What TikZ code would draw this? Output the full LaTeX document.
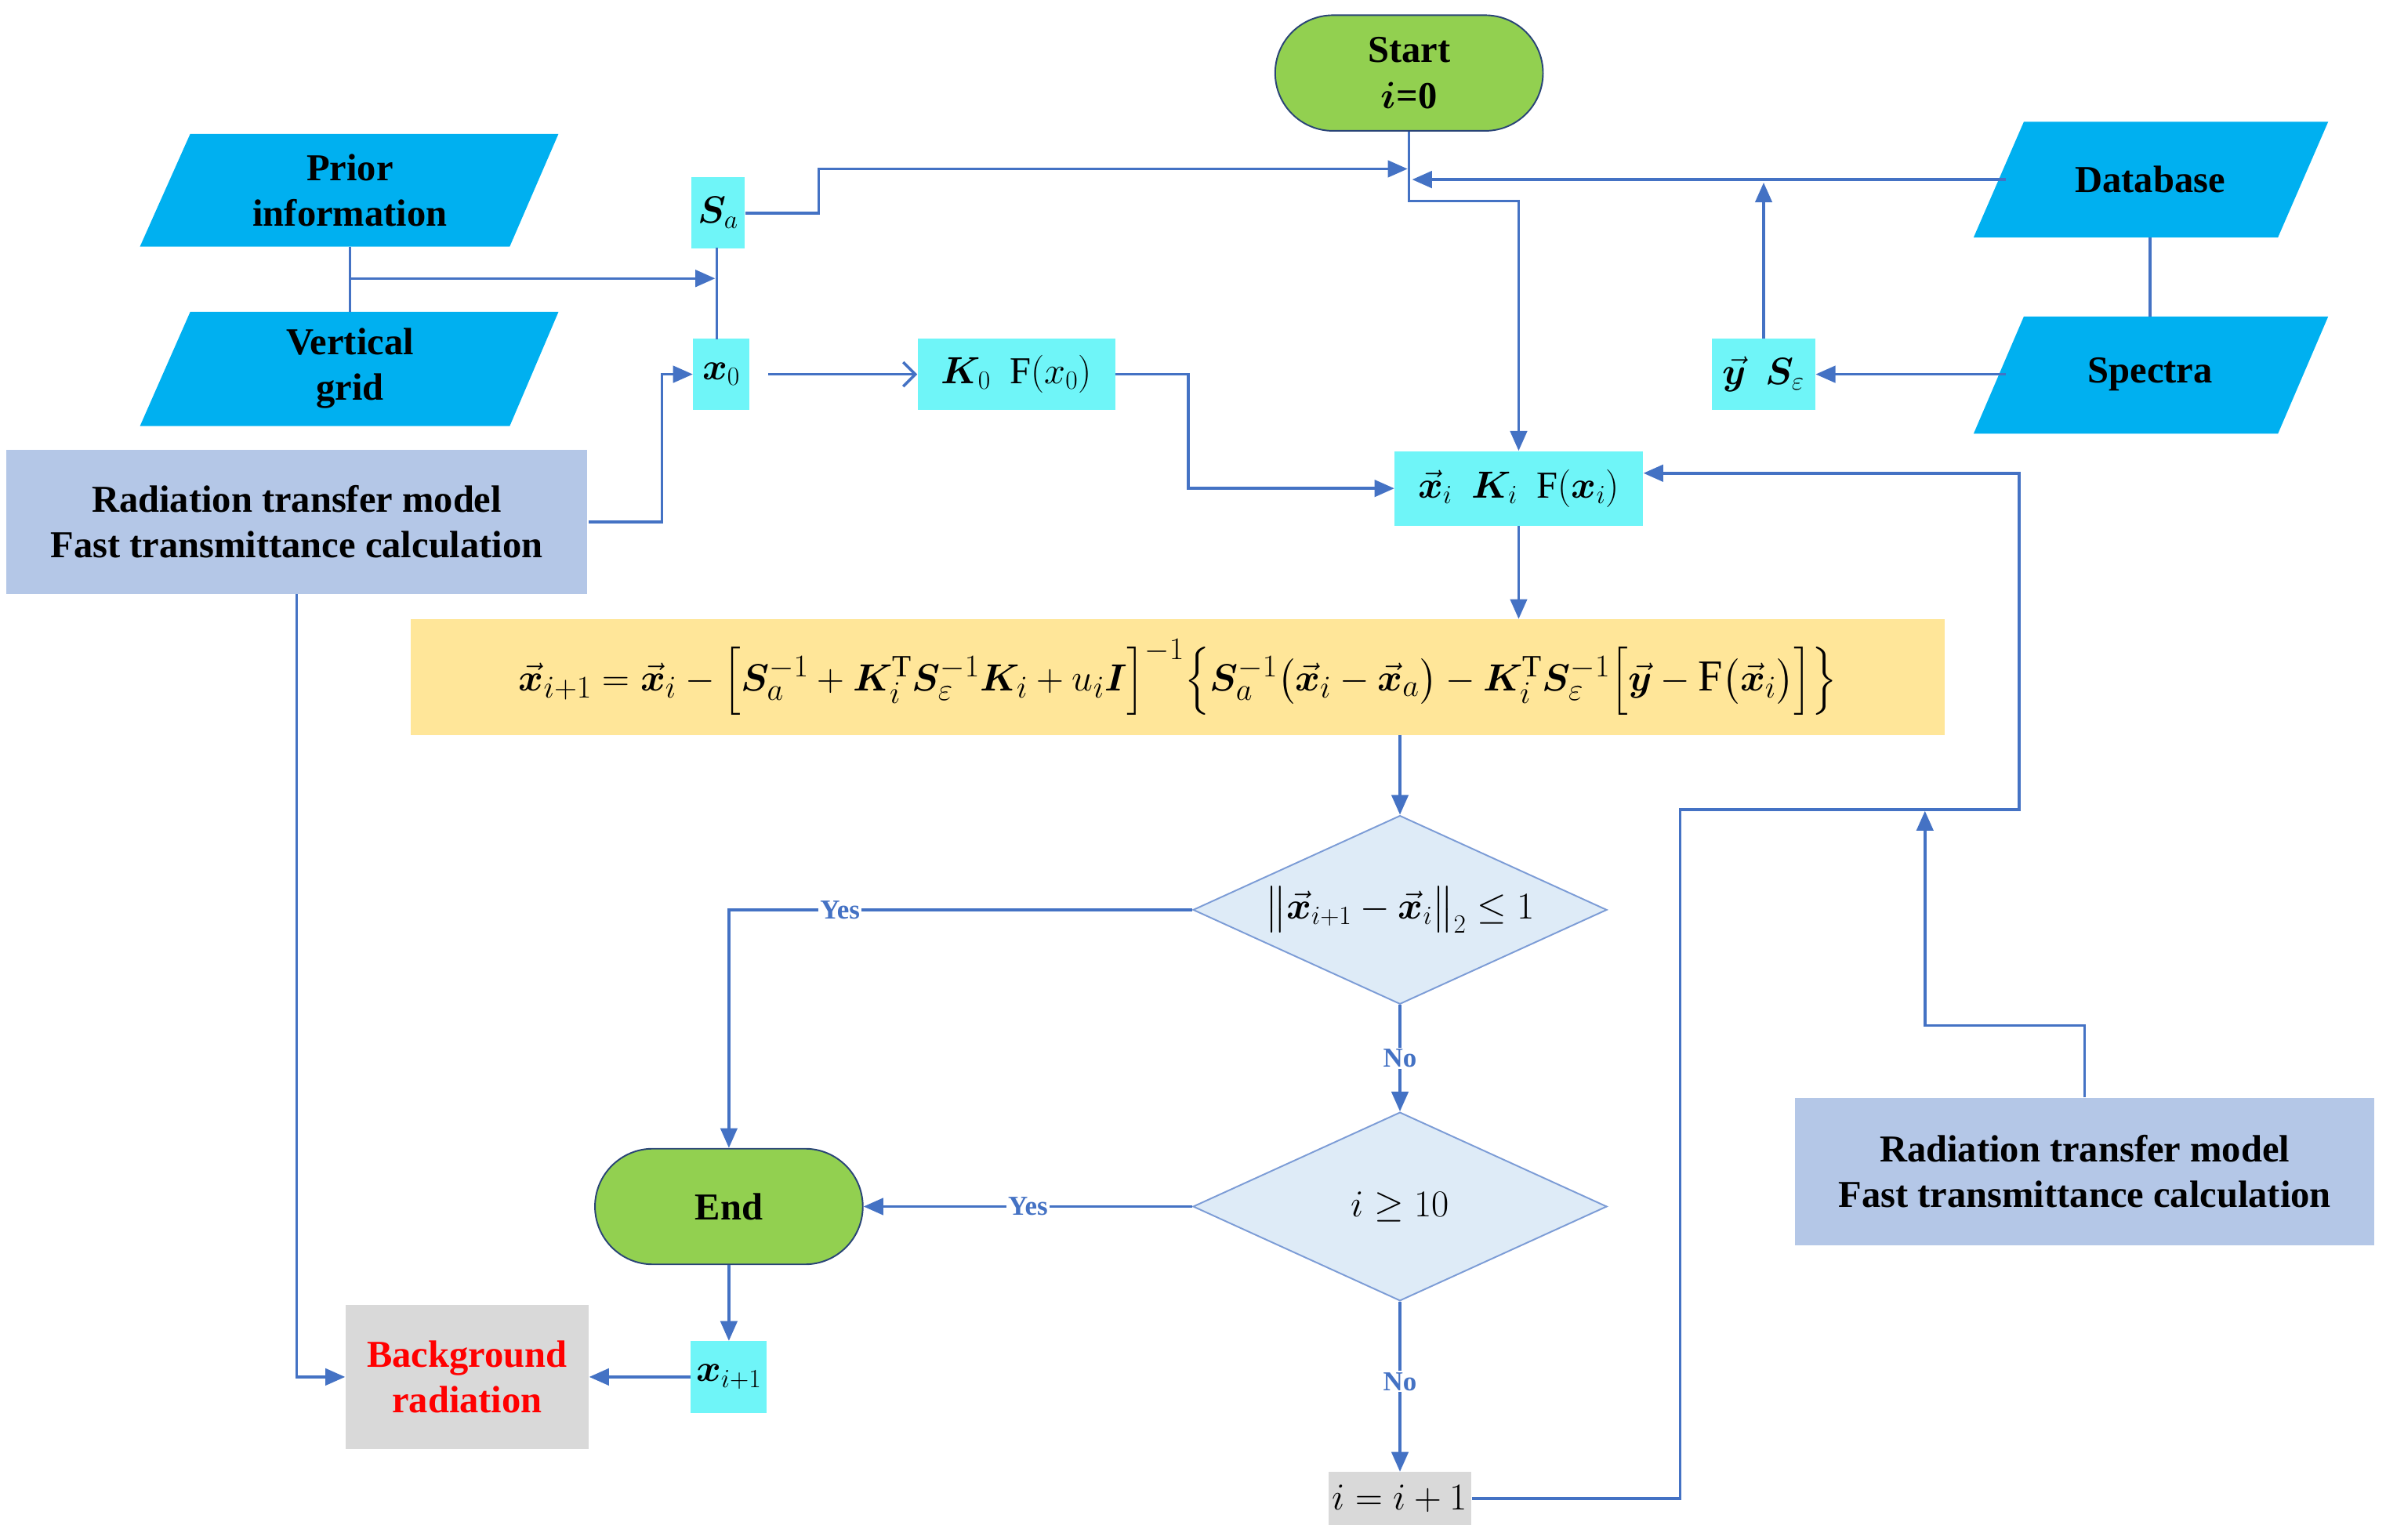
\documentclass[tikz,border=0pt]{standalone}
\usepackage{fontspec}
\usepackage{amsmath,bm}
\setmainfont{Liberation Serif}
\usetikzlibrary{arrows.meta,shapes.geometric,shapes.misc}
\definecolor{ln}{HTML}{4472C4}
\definecolor{grn}{HTML}{92D050}
\definecolor{skyb}{HTML}{00B0F0}
\definecolor{cyb}{HTML}{6FF5F8}
\definecolor{rtm}{HTML}{B4C7E7}
\definecolor{frm}{HTML}{FFE699}
\definecolor{gry}{HTML}{D9D9D9}
\definecolor{dia}{HTML}{DEEBF7}
\tikzset{
 every node/.style={font=\fontsize{25}{30}\selectfont\bfseries, align=center, inner sep=0pt},
 con/.style={draw=ln, line width=1.8pt, -{Triangle[width=11pt,length=13pt]}},
 ln/.style={draw=ln, line width=1.8pt},
 term/.style={rounded rectangle, fill=grn, draw=ln!60!black, line width=1pt, minimum width=176pt, minimum height=76pt},
 cbox/.style={fill=cyb, minimum height=47pt},
 lab/.style={font=\fontsize{18}{20}\selectfont\bfseries, text=ln, fill=white, inner sep=1pt},
 dm/.style={diamond, aspect=2.2, fill=dia, draw=ln!70, line width=1pt, minimum width=272pt, minimum height=124pt},
}
\begin{document}
\begin{tikzpicture}[x=1pt,y=-1pt]
\useasboundingbox (0,0) rectangle (1568,1012);
% parallelograms
\fill[skyb] (125,88)--(367,88)--(335,162)--(92,162)--cycle;
\fill[skyb] (125,205)--(367,205)--(335,280)--(92,280)--cycle;
\fill[skyb] (1330,80)--(1530,80)--(1497,156)--(1297,156)--cycle;
\fill[skyb] (1330,208)--(1530,208)--(1497,285)--(1297,285)--cycle;
\node (prior) at (230,125) {Prior\\information};
\node (vgrid) at (230,242) {Vertical\\grid};
\node (db) at (1413,118) {Database};
\node (sp) at (1413,246) {Spectra};
\node[term] (start) at (926,48) {Start\\$\bm{i}$=0};
\node[term] (end) at (479,793) {End};
\node[cbox, minimum width=35pt] (sa) at (472,140) {$\bm{S}_a$};
\node[cbox, minimum width=37pt] (x0) at (474,246) {$\bm{x}_0$};
\node[cbox, minimum width=130pt] (k0) at (668,246) {$\bm{K}_0\ \ \mathrm{F}(x_0)$};
\node[cbox, minimum width=68pt] (ys) at (1159,246) {$\vec{\bm{y}}\ \ \bm{S}_\varepsilon$};
\node[cbox, minimum width=163pt, minimum height=49pt] (xi) at (998,321) {$\vec{\bm{x}}_i\ \ \bm{K}_i\ \ \mathrm{F}(\bm{x}_i)$};
\node[fill=rtm, minimum width=382pt, minimum height=95pt] (rtm1) at (195,343) {Radiation transfer model\\Fast transmittance calculation};
\node[fill=rtm, minimum width=381pt, minimum height=97pt] (rtm2) at (1370,770) {Radiation transfer model\\Fast transmittance calculation};
\node[fill=frm, minimum width=1008pt, minimum height=76pt, font=\fontsize{29}{34}\selectfont] (frm) at (774,445)
 {$\vec{\bm{x}}_{i+1}=\vec{\bm{x}}_i-\Big[\bm{S}_a^{-1}+\bm{K}_i^{\mathrm{T}}\bm{S}_\varepsilon^{-1}\bm{K}_i+u_i\bm{I}\Big]^{-1}\Big\{\bm{S}_a^{-1}\big(\vec{\bm{x}}_i-\vec{\bm{x}}_a\big)-\bm{K}_i^{\mathrm{T}}\bm{S}_\varepsilon^{-1}\Big[\vec{\bm{y}}-\mathrm{F}\big(\vec{\bm{x}}_i\big)\Big]\Big\}$};
\node[dm] (d1) at (920,598) {$\big\|\vec{\bm{x}}_{i+1}-\vec{\bm{x}}_i\big\|_2\le 1$};
\node[dm] (d2) at (920,793) {$i\ge 10$};
\node[cbox, minimum width=50pt] (xn) at (479,905) {$\bm{x}_{i+1}$};
\node[fill=gry, minimum width=160pt, minimum height=95pt, text=red] (bg) at (307,905) {Background\\radiation};
\node[fill=gry, minimum width=94pt, minimum height=35pt, font=\fontsize{24}{28}\selectfont] (inc) at (920,985) {$i=i+1$};
% connectors
\draw[ln] (230,162) -- (230,205);
\coordinate (jp) at (230,183);
\coordinate (ja) at (470,183);
\draw[con] (jp) -- (ja);
\draw[ln] (471,163) -- (471,223);
\coordinate (tsa) at (925,111);
\draw[con] (sa.east) -- (538,140) -- (538,111) -- (tsa);
\draw[con] (start.south) -- (926,132) -- (998,132) -- (xi.north);
\coordinate (tdb) at (928,118);
\coordinate (sdb) at (1318,118);
\draw[con] (sdb) -- (tdb);
\draw[ln] (1413,156) -- (1413,208);
\coordinate (ssp) at (1318,246);
\draw[con] (ssp) -- (ys.east);
\coordinate (tys) at (1159,120);
\draw[con] (ys.north) -- (tys);
\coordinate (sx0) at (505,246);
\draw[draw=ln, line width=1.8pt, -{Straight Barb[length=8pt,width=16pt]}] (sx0) -- (k0.west);
\draw[con] (k0.east) -- (781,246) -- (781,321) -- (xi.west);
\coordinate (sr1) at (387,343);
\draw[con] (sr1) -- (435,343) -- (435,246) -- (x0.west);
\draw[con] (rtm1.south) -- (195,905) -- (bg.west);
\draw[con] (xi.south) -- (xi.south |- frm.north);
\coordinate (sfr) at (920,483);
\draw[con] (sfr) -- (d1.north);
\draw[con] (d1.west) -- (479,598) -- (end.north);
\node[lab] at (552,598) {Yes};
\draw[con] (d1.south) -- node[lab]{No} (d2.north);
\draw[con] (d2.west) -- node[lab]{Yes} (end.east);
\draw[con] (end.south) -- (xn.north);
\draw[con] (xn.west) -- (bg.east);
\draw[con] (d2.south) -- node[lab, pos=0.47]{No} (inc.north);
\coordinate (txi) at (1080,311);
\draw[con] (inc.east) -- (1104,985) -- (1104,532) -- (1327,532) -- (1327,311) -- (txi);
\coordinate (tr2) at (1265,533);
\draw[con] (rtm2.north) -- (1370,674) -- (1265,674) -- (tr2);
\end{tikzpicture}
\end{document}
